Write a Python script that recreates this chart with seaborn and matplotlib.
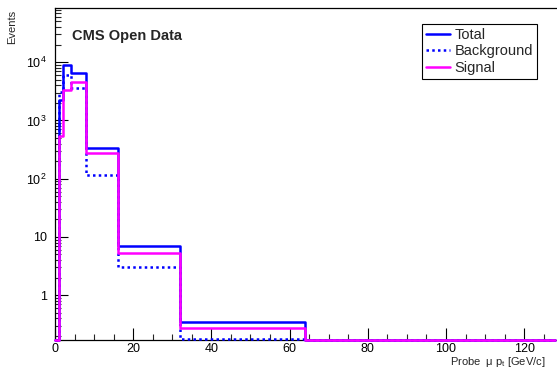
import numpy as np
import pandas as pd
import matplotlib
matplotlib.use("Agg")
import matplotlib.pyplot as plt
from matplotlib.lines import Line2D
from matplotlib.ticker import FixedLocator, MultipleLocator, LogLocator, NullFormatter
import seaborn as sns

# ---- data ----
bin_edges = [0, 1.1, 2, 4, 8, 16, 32, 64, 128]
total = [0, 2200, 8900, 6600, 337, 7.1, 0.34, 0]
background = [0, 3100, 6000, 3600, 116, 3.1, 0.18, 0]
signal = [0, 530, 3300, 4500, 271, 5.25, 0.27, 0]
series_names = ["Total", "Background", "Signal"]
x_ticks = [0, 20, 40, 60, 80, 100, 120]
y_ticks = [1, 10, 100, 1000, 10000]
y_tick_labels = ["1", "10", r"10$^{\mathregular{2}}$", r"10$^{\mathregular{3}}$", r"10$^{\mathregular{4}}$"]

sns.set_style("ticks")
plt.rcParams["font.family"] = ["Liberation Sans", "DejaVu Sans"]
plt.rcParams["mathtext.fontset"] = "custom"
plt.rcParams["mathtext.rm"] = "Liberation Sans"
plt.rcParams["mathtext.it"] = "Liberation Sans"

YMIN, YMAX = 0.17, 8.5e4
XMAX = 128.4

fig = plt.figure(figsize=(5.57, 3.70), dpi=100)
ax = fig.add_axes([55 / 557, 30 / 370, (557 - 55) / 557, 332 / 370])


def step_frame(vals, name):
    v = [max(val, YMIN * 1.01) for val in vals]
    return pd.DataFrame({"x": bin_edges, "y": v + [v[-1]], "s": name})


blue = "#0000ff"
magenta = "#ff00ff"
styles = {
    "Total": dict(color=blue, linestyle="-"),
    "Background": dict(color=blue, linestyle=(0, (1, 1.3))),
    "Signal": dict(color=magenta, linestyle="-"),
}
for name, vals in zip(series_names, [total, background, signal]):
    df = step_frame(vals, name)
    sns.lineplot(data=df, x="x", y="y", ax=ax, estimator=None, sort=False,
                 drawstyle="steps-post", linewidth=1.8, legend=False,
                 clip_on=False, zorder=3, **styles[name])

ax.set_yscale("log")
ax.set_xlim(0, XMAX)
ax.set_ylim(YMIN, YMAX)

ax.xaxis.set_major_locator(FixedLocator(x_ticks))
ax.xaxis.set_minor_locator(MultipleLocator(5))
ax.set_xticklabels([str(t) for t in x_ticks])
ax.yaxis.set_major_locator(FixedLocator(y_ticks))
ax.set_yticklabels(y_tick_labels)
ax.yaxis.set_minor_locator(LogLocator(base=10, subs=np.arange(2, 10)))
ax.yaxis.set_minor_formatter(NullFormatter())

ax.tick_params(axis="both", which="major", direction="in", length=9, width=0.8,
               labelsize=9, colors="black", top=False, right=False)
ax.tick_params(axis="both", which="minor", direction="in", length=4.5, width=0.8,
               top=False, right=False)
ax.tick_params(axis="x", which="major", pad=2.5)
ax.tick_params(axis="y", which="major", pad=6)

for sp in ["left", "bottom", "top"]:
    ax.spines[sp].set_linewidth(0.9)
    ax.spines[sp].set_color("black")
ax.spines["right"].set_visible(False)

ax.set_xlabel(r"Probe  $\mu$ p$_{\mathregular{t}}$ [GeV/c]", fontsize=8, ha="right")
ax.xaxis.set_label_coords((546 - 55) / 502, -0.046, transform=ax.transAxes)
ax.xaxis.label.set_va("top")
ax.set_ylabel("Events", fontsize=8, ha="right")
ax.yaxis.set_label_coords(-0.075, 0.995, transform=ax.transAxes)

fig.text(72 / 557, 1 - 36 / 370, "CMS Open Data", fontsize=10.5, fontweight="bold",
         ha="left", va="center")

handles = [Line2D([], [], linewidth=1.8, **styles[n]) for n in series_names]
leg = fig.legend(handles, series_names, loc="upper left",
                 bbox_to_anchor=(422 / 557, 1 - 24 / 370), fontsize=10.5,
                 frameon=True, fancybox=False, edgecolor="black", framealpha=1,
                 handlelength=1.7, handletextpad=0.3, borderpad=0.25,
                 labelspacing=0.18, borderaxespad=0)
leg.get_frame().set_linewidth(0.8)

fig.savefig("out.png", dpi=100)
